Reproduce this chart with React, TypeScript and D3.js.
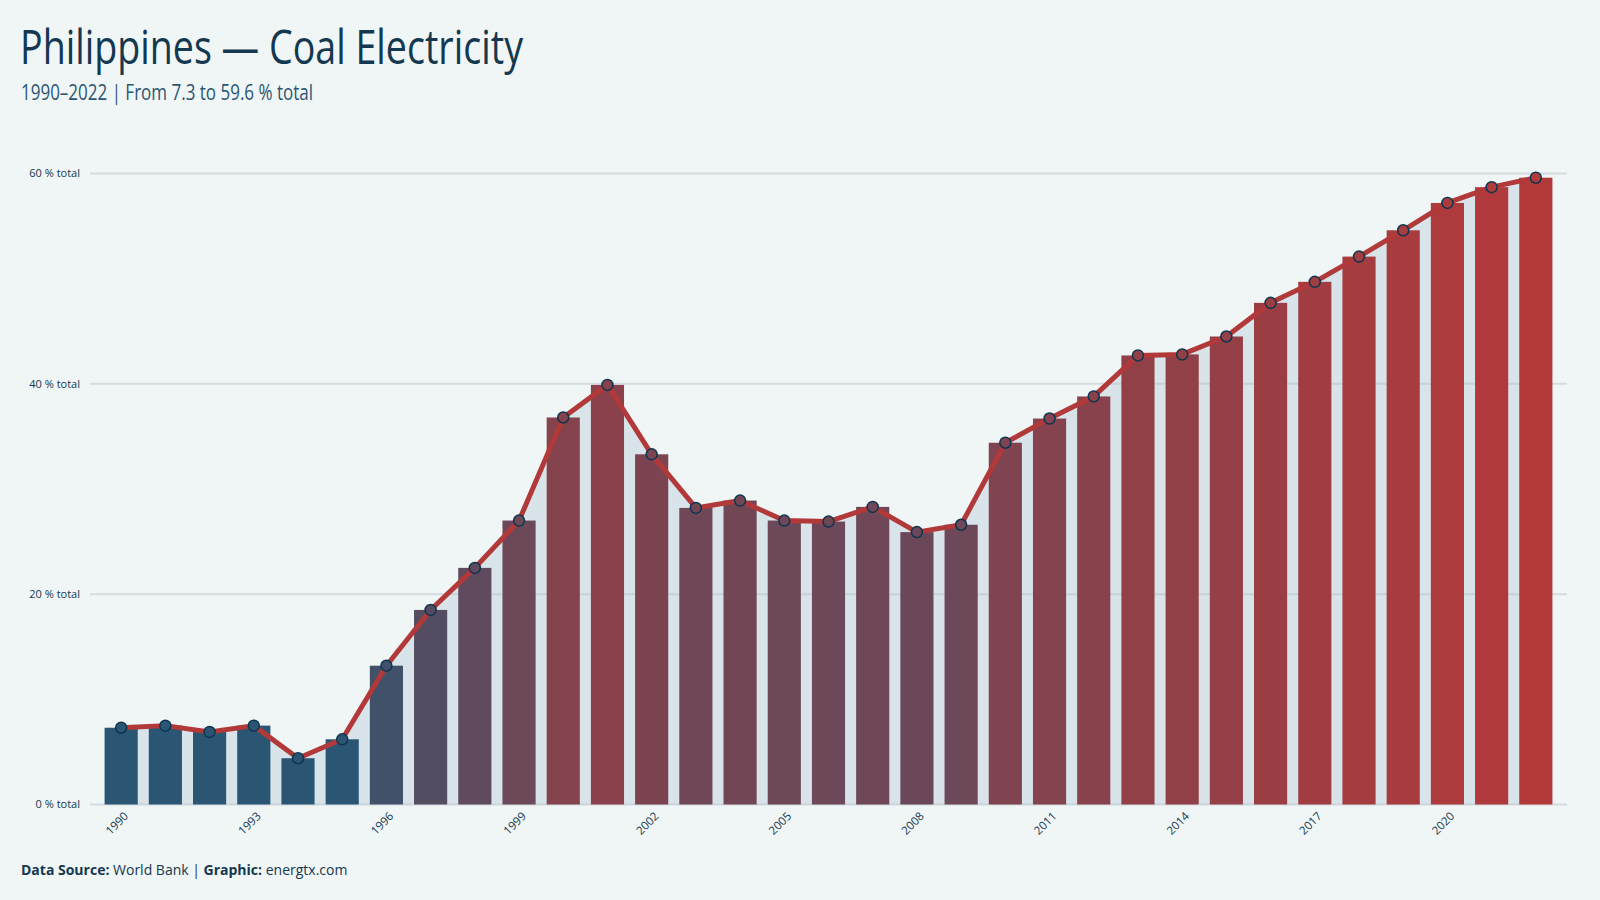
import React from 'react';
import * as d3 from 'd3';

// Coal share of electricity production, Philippines (% of total)
const years = [
  1990, 1991, 1992, 1993, 1994, 1995, 1996, 1997, 1998, 1999, 2000, 2001, 2002, 2003, 2004, 2005, 2006,
  2007, 2008, 2009, 2010, 2011, 2012, 2013, 2014, 2015, 2016, 2017, 2018, 2019, 2020, 2021, 2022,
];
const coalShare = [
  7.3, 7.5, 6.9, 7.5, 4.4, 6.2, 13.2, 18.5, 22.5, 27.0, 36.8, 39.9, 33.3, 28.2, 28.9, 27.0, 26.9,
  28.3, 25.9, 26.6, 34.4, 36.7, 38.8, 42.7, 42.8, 44.5, 47.7, 49.7, 52.1, 54.6, 57.2, 58.7, 59.6,
];
const yTicks = [0, 20, 40, 60];
const xTickYears = [1990, 1993, 1996, 1999, 2002, 2005, 2008, 2011, 2014, 2017, 2020];

const W = 1600;
const H = 900;
const BG = '#f0f5f5';
const NAVY = '#143850';
const BLUE = '#2a5674';
const RED = '#b2393a';

const data = years.map((year, i) => ({ year, value: coalShare[i] }));

export default function App() {
  const x = d3
    .scaleBand<number>()
    .domain(years)
    .range([90, 1567])
    .paddingInner(0.25)
    .paddingOuter(0.33);
  const y = d3.scaleLinear().domain([0, 60]).range([804.5, 173.5]);
  const color = d3
    .scaleSqrt()
    .domain([7.5, 60])
    .range([BLUE, RED] as any)
    .interpolate(d3.interpolateRgb as any)
    .clamp(true) as unknown as (v: number) => string;

  const cx = (d: { year: number }) => (x(d.year) ?? 0) + x.bandwidth() / 2;

  const area = d3
    .area<{ year: number; value: number }>()
    .x(cx)
    .y0(y(0))
    .y1((d) => y(d.value));
  const line = d3
    .line<{ year: number; value: number }>()
    .x(cx)
    .y((d) => y(d.value));

  const first = coalShare[0];
  const last = coalShare[coalShare.length - 1];
  const font = '"Open Sans", "Noto Sans", sans-serif';

  return (
    <svg
      width={W}
      height={H}
      style={{ position: 'absolute', left: 0, top: 0, display: 'block' }}
      fontFamily={font}
    >
      <rect width={W} height={H} fill={BG} />

      {/* header */}
      <text
        x={20}
        y={64}
        fontSize={47}
        fill={NAVY}
        textLength={503}
        lengthAdjust="spacingAndGlyphs"
      >
        Philippines — Coal Electricity
      </text>
      <text
        x={21}
        y={100}
        fontSize={22}
        fill={BLUE}
        textLength={292}
        lengthAdjust="spacingAndGlyphs"
      >
        {`${years[0]}–${years[years.length - 1]} | From ${first} to ${last} % total`}
      </text>

      {/* shaded area under the line */}
      <path d={area(data) ?? ''} fill="#d8e4e9" />

      {/* grid */}
      {yTicks.map((t) => (
        <g key={t}>
          <line
            x1={90}
            x2={1567}
            y1={y(t)}
            y2={y(t)}
            stroke="#a9b7bd"
            strokeOpacity={0.4}
            strokeWidth={2}
          />
          <text
            x={80}
            y={y(t)}
            dy="0.35em"
            textAnchor="end"
            fontSize={11}
            fill={NAVY}
          >
            {`${t} % total`}
          </text>
        </g>
      ))}

      {/* bars */}
      {data.map((d) => (
        <rect
          key={d.year}
          x={x(d.year)}
          y={y(d.value)}
          width={x.bandwidth()}
          height={y(0) - y(d.value)}
          fill={color(d.value)}
        />
      ))}

      {/* line + markers */}
      <path d={line(data) ?? ''} fill="none" stroke={RED} strokeWidth={5} strokeLinejoin="round" />
      {data.map((d) => (
        <circle
          key={d.year}
          cx={cx(d)}
          cy={y(d.value)}
          r={5.5}
          fill={color(d.value)}
          stroke="#0e3550"
          strokeWidth={1.5}
        />
      ))}

      {/* x axis labels */}
      {xTickYears.map((yr) => {
        const px = (x(yr) ?? 0) + x.bandwidth() / 2 + 5;
        const py = 814;
        return (
          <text
            key={yr}
            x={px}
            y={py}
            transform={`rotate(-45 ${px} ${py})`}
            textAnchor="end"
            dy="0.35em"
            fontSize={11.5}
            fill={NAVY}
          >
            {yr}
          </text>
        );
      })}

      {/* footer */}
      <text x={21} y={875} fontSize={14} fill={NAVY}>
        <tspan fontWeight={700}>Data  Source:</tspan>
        <tspan> World Bank | </tspan>
        <tspan fontWeight={700}>Graphic:</tspan>
        <tspan> energtx.com</tspan>
      </text>
    </svg>
  );
}
